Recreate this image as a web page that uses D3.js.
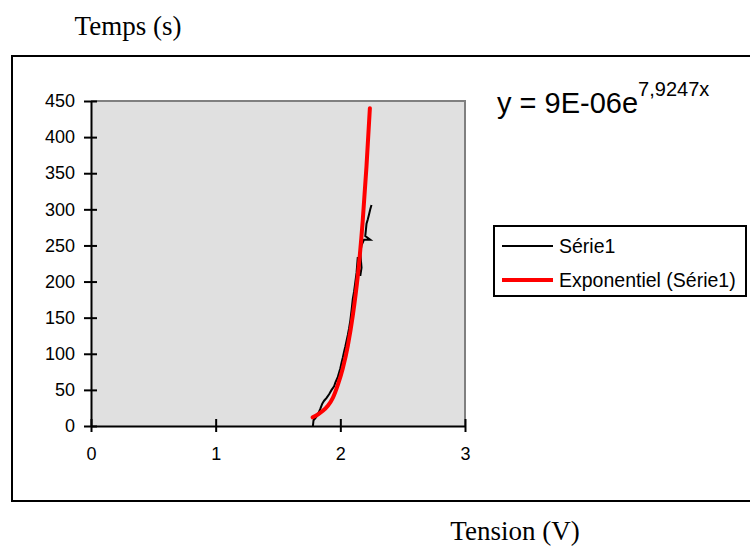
<!DOCTYPE html>
<html>
<head>
<meta charset="utf-8">
<script src="https://cdn.jsdelivr.net/npm/d3@7"></script>
<style>
  body { margin: 0; background: #fff; }
  svg { display: block; }
</style>
</head>
<body>
<div class="graph"></div>
<script>
// valeurs
const serieX = [1.78, 1.785, 1.80, 1.82, 1.84, 1.855, 1.87, 1.89, 1.91, 1.93, 1.95, 1.96, 1.98, 1.99, 2.00, 2.01,
  2.02, 2.03, 2.04, 2.05, 2.06, 2.07, 2.08, 2.09, 2.10, 2.11, 2.12, 2.13, 2.14, 2.15, 2.16, 2.17, 2.16, 2.17,
  2.19, 2.24, 2.20, 2.21, 2.22, 2.23, 2.24, 2.25];
const serieY = [0, 8, 11, 16, 24, 31, 35, 39, 44, 50, 55, 60, 68, 74, 80, 88,
  95, 103, 110, 118, 126, 135, 146, 160, 176, 186, 199, 212, 234, 216, 208, 219, 240, 250,
  258, 258, 263, 280, 286, 293, 300, 306];

// courbe de tendance exponentielle
const trendX = [1.778, 1.82, 1.86, 1.90, 1.94, 1.98, 2.02, 2.06, 2.10, 2.14, 2.18, 2.21, 2.237];
const trendY = [12, 16, 21, 28, 39, 57, 80, 111, 153, 208, 285, 360, 440];

const xTicks = [0, 1, 2, 3];
const yTicks = [0, 50, 100, 150, 200, 250, 300, 350, 400, 450];

const yTitle = 'Temps (s)';
const xTitle = 'Tension (V)';
const seriesNames = ['Série1', 'Exponentiel (Série1)'];

const width = 750;
const height = 550;
const [pl, pr, pt, pb] = [91, 465, 101, 426]; // zone de tracé (gauche, droite, haut, bas)

const svg = d3.select('.graph')
  .append('svg')
  .attr('width', width)
  .attr('height', height);

const sans = 'Arial, "Liberation Sans", sans-serif';
const serif = '"Times New Roman", "Liberation Serif", serif';

// cadre du graphique
svg.append('rect')
  .attr('x', 12).attr('y', 56)
  .attr('width', 760).attr('height', 445)
  .attr('fill', 'none')
  .attr('stroke', '#000')
  .attr('stroke-width', 2);

const x = d3.scaleLinear().domain([0, 3]).range([pl, pr]);
const y = d3.scaleLinear().domain([0, 450]).range([pb, pt]);

// fond gris
svg.append('rect')
  .attr('x', pl).attr('y', pt)
  .attr('width', pr - pl).attr('height', pb - pt)
  .attr('fill', '#e0e0e0');
svg.append('path')
  .attr('d', `M${pl},${pt}H${pr}V${pb}`)
  .attr('fill', 'none')
  .attr('stroke', '#808080')
  .attr('stroke-width', 2);

// axes
svg.append('g')
  .attr('transform', `translate(${pl},0)`)
  .call(d3.axisLeft(y).tickValues(yTicks).tickSize(7).tickPadding(9).tickSizeOuter(0))
  .call(g => g.select('.domain').attr('stroke-width', 2))
  .call(g => g.selectAll('.tick line').attr('x1', 6).attr('stroke-width', 2))
  .call(g => g.selectAll('text').attr('font-family', sans).attr('font-size', 18).attr('fill', '#000'));

svg.append('g')
  .attr('transform', `translate(0,${pb})`)
  .call(d3.axisBottom(x).tickValues(xTicks).tickFormat(d3.format('d')).tickSize(6).tickPadding(15).tickSizeOuter(0))
  .call(g => g.select('.domain').attr('stroke-width', 2))
  .call(g => g.selectAll('.tick line').attr('y1', -7).attr('stroke-width', 2))
  .call(g => g.selectAll('text').attr('font-family', sans).attr('font-size', 18).attr('fill', '#000'));

// série 1
const serie = serieX.map((d, i) => [d, serieY[i]]);
svg.append('path')
  .datum(serie)
  .attr('d', d3.line().x(d => x(d[0])).y(d => y(d[1])))
  .attr('fill', 'none')
  .attr('stroke', '#000')
  .attr('stroke-width', 2);

// tendance
const trend = trendX.map((d, i) => [d, trendY[i]]);
svg.append('path')
  .datum(trend)
  .attr('d', d3.line().curve(d3.curveMonotoneX).x(d => x(d[0])).y(d => y(d[1])))
  .attr('fill', 'none')
  .attr('stroke', '#ff0000')
  .attr('stroke-width', 4)
  .attr('stroke-linecap', 'round');

// titres
svg.append('text')
  .attr('x', 128).attr('y', 35)
  .attr('text-anchor', 'middle')
  .attr('font-family', serif).attr('font-size', 27)
  .text(yTitle);

svg.append('text')
  .attr('x', 515).attr('y', 540)
  .attr('text-anchor', 'middle')
  .attr('font-family', serif).attr('font-size', 27)
  .text(xTitle);

// équation
const eq = svg.append('text')
  .attr('x', 497).attr('y', 113)
  .attr('font-family', sans).attr('font-size', 29);
eq.append('tspan').text('y = 9E-06e');
eq.append('tspan').attr('font-size', 20).attr('dy', -17).text('7,9247x');

// légende
const legend = svg.append('g');
legend.append('rect')
  .attr('x', 494).attr('y', 226)
  .attr('width', 252).attr('height', 70)
  .attr('fill', '#fff')
  .attr('stroke', '#000')
  .attr('stroke-width', 2);

const legendItems = legend.selectAll('.item')
  .data(seriesNames)
  .enter().append('g')
  .attr('class', 'item')
  .attr('transform', (d, i) => `translate(502,${246 + i * 34})`);

legendItems.append('line')
  .attr('x1', 0).attr('x2', 51)
  .attr('stroke', (d, i) => i === 0 ? '#000' : '#ff0000')
  .attr('stroke-width', (d, i) => i === 0 ? 2 : 4);

legendItems.append('text')
  .attr('x', 57).attr('y', 7)
  .attr('font-family', sans).attr('font-size', 19.5)
  .text(d => d);
</script>
</body>
</html>
